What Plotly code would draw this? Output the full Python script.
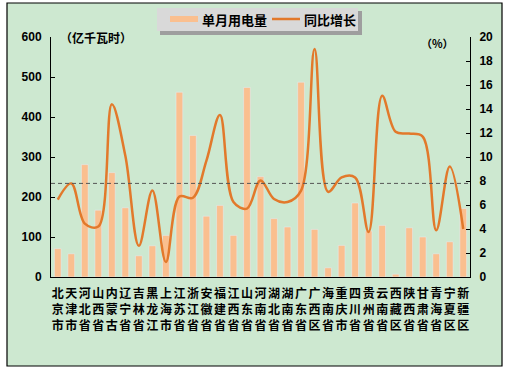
import plotly.graph_objects as go

provinces = ["北京市","天津市","河北省","山西省","内蒙古","辽宁省","吉林省","黑龙江","上海市","江苏省",
             "浙江省","安徽省","福建省","江西省","山东省","河南省","湖北省","湖南省","广东省","广西区",
             "海南省","重庆市","四川省","贵州省","云南省","西藏区","陕西省","甘肃省","青海省","宁夏区","新疆区"]
monthly_use = [71, 58, 281, 167, 261, 173, 53, 78, 104, 462,
               354, 152, 179, 104, 474, 251, 146, 125, 487, 119,
               23, 79, 185, 115, 129, 7, 123, 100, 58, 88, 171]
yoy_growth = [6.45, 7.8, 4.45, 4.2, 14.4, 10.1, 2.6, 7.2, 1.25, 6.7,
              6.6, 9.7, 13.5, 6.25, 5.7, 8.05, 6.5, 6.25, 7.2, 19.0,
              7.1, 8.3, 8.3, 3.75, 15.1, 12.1, 11.95, 11.7, 3.9, 9.2, 4.0]
national_avg = 7.8
left_ticks = [0, 100, 200, 300, 400, 500, 600]
right_ticks = [0, 2, 4, 6, 8, 10, 12, 14, 16, 18, 20]

W, H = 511, 370
L, R, T, B = 51, 470, 37, 277
pw, ph = R - L, B - T

def px(x):
    return (x - L) / pw

def py(y):
    return (B - y) / ph

tick_text = ["<br>".join(list(p)) for p in provinces]

fig = go.Figure()
fig.add_trace(go.Bar(x=provinces, y=monthly_use, name="单月用电量", marker_color="#FABF8F",
                     showlegend=False, yaxis="y"))
fig.add_trace(go.Scatter(x=provinces, y=yoy_growth, name="同比增长", mode="lines",
                         line=dict(color="#E2792B", width=2.5, shape="spline", smoothing=1.0),
                         yaxis="y2", showlegend=False))

font_b = dict(family="Noto Sans CJK SC", size=12, color="black", weight="bold")
num_font = dict(family="Liberation Sans", size=12, color="black", weight="bold")

shapes = [
    dict(type="rect", xref="paper", yref="paper", x0=px(7), x1=px(502), y0=py(366), y1=py(3),
         fillcolor="#CDE8D0", line=dict(color="black", width=1.2), layer="below"),
    dict(type="rect", xref="paper", yref="paper", x0=px(160), x1=px(362), y0=py(35), y1=py(11),
         fillcolor="#9E9E9E", line=dict(width=0), layer="below"),
    dict(type="rect", xref="paper", yref="paper", x0=px(157), x1=px(358), y0=py(31), y1=py(8),
         fillcolor="#D9D9D9", line=dict(width=0), layer="below"),
    dict(type="line", xref="paper", yref="paper", x0=px(170), x1=px(198), y0=py(19), y1=py(19),
         line=dict(color="#FABF8F", width=6), layer="below"),
    dict(type="line", xref="paper", yref="paper", x0=px(272), x1=px(300), y0=py(19), y1=py(19),
         line=dict(color="#E2792B", width=2.5), layer="below"),
    dict(type="line", xref="paper", yref="y2", x0=0, x1=1, y0=national_avg, y1=national_avg,
         line=dict(color="#555555", width=1, dash="4px,3px"), layer="above"),
]

annotations = [
    dict(text="单月用电量", xref="paper", yref="paper", x=px(200), y=py(19), xanchor="left",
         yanchor="middle", showarrow=False, font=dict(family="Noto Sans CJK SC", size=13, color="black", weight="bold")),
    dict(text="同比增长", xref="paper", yref="paper", x=px(302), y=py(19), xanchor="left",
         yanchor="middle", showarrow=False, font=dict(family="Noto Sans CJK SC", size=13, color="black", weight="bold")),
    dict(text="（亿千瓦时）", xref="paper", yref="paper", x=px(58), y=py(37), xanchor="left",
         yanchor="middle", showarrow=False, font=font_b),
    dict(text="（%）", xref="paper", yref="paper", x=px(456), y=py(43), xanchor="right",
         yanchor="middle", showarrow=False, font=dict(family="Noto Sans CJK SC", size=11, color="black", weight="bold")),
]

fig.update_layout(
    width=W, height=H,
    margin=dict(l=L, r=W - R, t=T, b=H - B, pad=0),
    paper_bgcolor="white", plot_bgcolor="rgba(0,0,0,0)",
    bargap=0.5, showlegend=False,
    xaxis=dict(tickmode="array", tickvals=provinces, ticktext=tick_text, tickfont=font_b,
               showline=True, linecolor="black", linewidth=1, ticks="", showgrid=False,
               tickangle=0, fixedrange=True, ticklabelstandoff=6),
    yaxis=dict(range=[0, 600], tickvals=left_ticks, showgrid=False, zeroline=False,
               showline=True, linecolor="black", linewidth=1, ticks="inside", ticklen=4,
               tickcolor="black", tickfont=num_font, ticklabelstandoff=6),
    yaxis2=dict(range=[0, 20], tickvals=right_ticks, overlaying="y", side="right", showgrid=False,
                zeroline=False, showline=True, linecolor="black", linewidth=1, ticks="inside",
                ticklen=4, tickcolor="black", tickfont=num_font, ticklabelstandoff=6),
    shapes=shapes, annotations=annotations,
)

fig.write_html("out.html", config={"displayModeBar": False},
               post_script="document.body.style.margin='0';document.body.style.padding='0';")
